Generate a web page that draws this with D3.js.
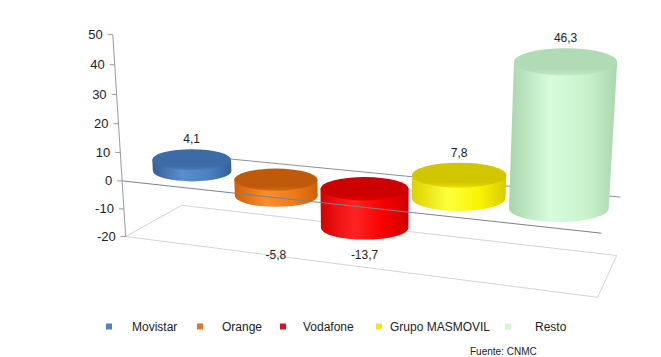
<!DOCTYPE html>
<html><head><meta charset="utf-8">
<script src="https://cdn.jsdelivr.net/npm/d3@7"></script>
<style>
body{margin:0;background:#fff}
svg{display:block}
text{font-family:Arial,"Liberation Sans",sans-serif;fill:#222}
</style>
</head><body>
<svg id="chart" width="661" height="357"></svg>
<script>
// ---------- data ----------
const categories = ["Movistar", "Orange", "Vodafone", "Grupo MASMOVIL", "Resto"];
const values = [4.1, -5.8, -13.7, 7.8, 46.3];
const valueLabels = ["4,1", "-5,8", "-13,7", "7,8", "46,3"];
const yTicks = [-20, -10, 0, 10, 20, 30, 40, 50];
const yDomain = [-20, 50];
const sourceText = "Fuente: CNMC";

// ---------- styles ----------
const sideStops = [
  ["#355f96", "#5a8ecf", "#4a7fc0", "#35619a"],
  ["#d0600a", "#f88e2e", "#ee7a18", "#cf5f0a"],
  ["#d60000", "#ff2424", "#f70000", "#d00000"],
  ["#dcd000", "#ffff3a", "#f8f400", "#d8cc00"],
  ["#a8d5ad", "#d8fcdb", "#c8f2cc", "#aad6ae"]
];
const topColors = [["#3d6ba6", "#4a7cbb"], ["#bf5a0b", "#d46a12"], ["#cc0000", "#e60000"], ["#d2c600", "#e8e000"], ["#b0dbb4", "#c2ecc6"]];
const legendColors = ["#4f81bd", "#d9782e", "#e2101c", "#f2e22c", "#d4f6d6"];

const svg = d3.select("#chart");

// ---------- 3D frame: world X (category axis 0..5), value, Z depth (0 front .. 1 back) ----------
const yWorld = d3.scaleLinear().domain(yDomain).range([-2, 5]);
const frameAnchors = [
  [[0, -20, 0], [126, 237]], [[0, -20, 1], [182, 205]],
  [[5, -20, 1], [617, 256]], [[5, -20, 0], [597, 297]],
  [[0, 50, 0], [113, 35]], [[0, 20, 0], [118, 123]], [[0, 0, 0], [122, 181]],
  [[5, 0, 0], [602, 233]], [[5, 0, 1], [620, 197]]
];
function fitCamera(anchors) {
  const rows = [], rhs = [];
  anchors.forEach(([[X, val, Z], [u, v]]) => {
    const Y = yWorld(val);
    rows.push([X, Y, Z, 1, 0, 0, 0, 0, -u * X, -u * Y, -u * Z]); rhs.push(u);
    rows.push([0, 0, 0, 0, X, Y, Z, 1, -v * X, -v * Y, -v * Z]); rhs.push(v);
  });
  const n = 11;
  const M = Array.from({length: n}, () => new Array(n + 1).fill(0));
  rows.forEach((r, k) => {
    for (let i = 0; i < n; i++) {
      for (let j = 0; j < n; j++) M[i][j] += r[i] * r[j];
      M[i][n] += r[i] * rhs[k];
    }
  });
  for (let c = 0; c < n; c++) {
    let p = c;
    for (let r = c + 1; r < n; r++) if (Math.abs(M[r][c]) > Math.abs(M[p][c])) p = r;
    [M[c], M[p]] = [M[p], M[c]];
    for (let r = 0; r < n; r++) {
      if (r === c) continue;
      const f = M[r][c] / M[c][c];
      for (let j = c; j <= n; j++) M[r][j] -= f * M[c][j];
    }
  }
  return M.map((r, i) => r[n] / r[i]);
}
const P = fitCamera(frameAnchors);
function project(X, val, Z) {
  const Y = yWorld(val);
  const w = P[8] * X + P[9] * Y + P[10] * Z + 1;
  return [(P[0] * X + P[1] * Y + P[2] * Z + P[3]) / w, (P[4] * X + P[5] * Y + P[6] * Z + P[7]) / w];
}

const xBand = d3.scaleBand().domain(categories).range([0, 5]).paddingInner(0.04).paddingOuter(0.02);
const line = d3.line();

// ---------- defs ----------
const defs = svg.append("defs");
categories.forEach((c, i) => {
  const g = defs.append("linearGradient").attr("id", "side" + i).attr("x1", 0).attr("x2", 1).attr("y1", 0).attr("y2", 0);
  [0, 0.38, 0.72, 1].forEach((o, k) => g.append("stop").attr("offset", o).attr("stop-color", sideStops[i][k]));
  const t = defs.append("linearGradient").attr("id", "top" + i).attr("x1", 0).attr("x2", 0).attr("y1", 0).attr("y2", 1);
  t.append("stop").attr("offset", 0).attr("stop-color", topColors[i][0]);
  t.append("stop").attr("offset", 0.8).attr("stop-color", topColors[i][0]);
  t.append("stop").attr("offset", 1).attr("stop-color", topColors[i][1]);
});

// ---------- floor ----------
const floorPts = [[0, 0], [0, 1], [5, 1], [5, 0]].map(([x, z]) => project(x, yDomain[0], z));
svg.append("path").attr("d", line(floorPts) + "Z")
  .attr("fill", "none").attr("stroke", "#d4d4d4").attr("stroke-width", 1);

// back zero line
svg.append("path").attr("d", line([project(0, 0, 1), project(5, 0, 1)]))
  .attr("stroke", "#8a8f99").attr("stroke-width", 1).attr("fill", "none");

// ---------- cylinders ----------
const ellRatio = 0.265;
const bars = categories.map((c, i) => {
  const v = values[i];
  const cx = xBand(c) + xBand.bandwidth() / 2, r = xBand.bandwidth() / 2;
  const topV = Math.max(0, v), botV = Math.min(0, v);
  const pt = project(cx, topV, 0.5), pb = project(cx, botV, 0.5);
  const rxT = Math.hypot(...[0, 1].map(k => project(cx + r, topV, 0.5)[k] - project(cx - r, topV, 0.5)[k])) / 2;
  const rxB = Math.hypot(...[0, 1].map(k => project(cx + r, botV, 0.5)[k] - project(cx - r, botV, 0.5)[k])) / 2;
  return {i, v, pt, pb, rxT, rxB, ryT: rxT * ellRatio, ryB: rxB * ellRatio};
});
const gBars = svg.append("g");
bars.forEach(b => {
  const g = gBars.append("g");
  const d = `M${b.pb[0] - b.rxB},${b.pb[1]} L${b.pt[0] - b.rxT},${b.pt[1]} L${b.pt[0] + b.rxT},${b.pt[1]} L${b.pb[0] + b.rxB},${b.pb[1]} A${b.rxB},${b.ryB} 0 0 1 ${b.pb[0] - b.rxB},${b.pb[1]} Z`;
  g.append("path").attr("d", d).attr("fill", `url(#side${b.i})`);
  g.append("ellipse").attr("cx", b.pt[0]).attr("cy", b.pt[1]).attr("rx", b.rxT).attr("ry", b.ryT)
    .attr("fill", `url(#top${b.i})`);
});

// front zero line (on top of negative bars)
svg.append("path").attr("d", line([project(0, 0, 0), project(5, 0, 0)]))
  .attr("stroke", "#7d828c").attr("stroke-width", 1).attr("fill", "none");

// ---------- value labels ----------
const negBottom = d3.max(bars.filter(b => b.v < 0), b => b.pb[1] + b.ryB);
svg.append("g").selectAll("text").data(bars).join("text")
  .attr("x", b => b.pt[0])
  .attr("y", b => b.v >= 0 ? b.pt[1] - b.ryT - 6 : negBottom + 19)
  .attr("text-anchor", "middle").attr("font-size", 12)
  .text(b => valueLabels[b.i]);

// ---------- value axis ----------
const gAxis = svg.append("g");
gAxis.append("path").attr("d", line([project(0, yDomain[0], 0), project(0, yDomain[1], 0)]))
  .attr("stroke", "#9a9a9a").attr("fill", "none");
yTicks.forEach(t => {
  const p = project(0, t, 0);
  gAxis.append("line").attr("x1", p[0] - 5).attr("x2", p[0]).attr("y1", p[1]).attr("y2", p[1]).attr("stroke", "#9a9a9a");
  gAxis.append("text").attr("x", p[0] - 10).attr("y", p[1]).attr("dy", "0.35em")
    .attr("text-anchor", "end").attr("font-size", 13).text(t);
});

// ---------- legend ----------
const legendMarkerX = [106, 197, 280, 376, 505];
const legendTextX = [132, 222, 303, 390, 535];
const legendY = 326.5;
const gLeg = svg.append("g");
categories.forEach((c, i) => {
  gLeg.append("rect").attr("x", legendMarkerX[i]).attr("y", legendY - 3).attr("width", 6).attr("height", 6)
    .attr("fill", legendColors[i]);
  gLeg.append("text").attr("x", legendTextX[i]).attr("y", legendY).attr("dy", "0.35em")
    .attr("font-size", 12).text(c);
});

svg.append("text").attr("x", 470).attr("y", 355).attr("font-size", 10).text(sourceText);
</script>
</body></html>
